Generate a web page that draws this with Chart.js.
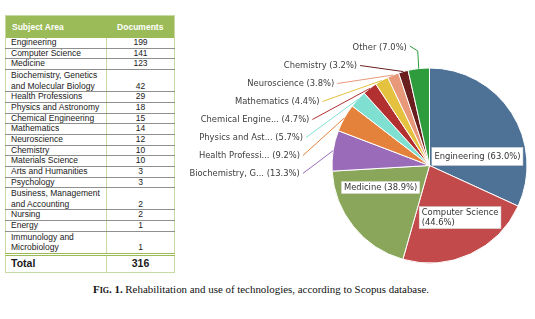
<!DOCTYPE html>
<html>
<head>
<meta charset="utf-8">
<script src="https://cdn.jsdelivr.net/npm/chart.js@4.4.1/dist/chart.umd.min.js"></script>
<style>
  body { margin: 0; background: #fff; width: 535px; height: 319px; position: relative; overflow: hidden; }
  #docs {
    position: absolute; left: 5px; top: 15px; width: 169px;
    border-collapse: collapse; table-layout: fixed;
    font-family: "Liberation Sans", Arial, sans-serif; font-size: 8.5px; color: #1a1a1a;
    border: 1px solid #c9d9a6;
  }
  #docs th {
    background: #9bbb59; color: #fff; font-weight: bold; height: 22px; padding: 0;
  }
  #docs th.name { text-align: left; padding-left: 6px; }
  #docs td { padding: 0 0 0 5px; line-height: 9.7px; border-bottom: 1px solid #8f8f8f; vertical-align: bottom; }
  #docs td.num { text-align: center; padding: 0; border-left: 1px solid #c9d9a6; }
  #docs tr.two td { line-height: 10.5px; }
  #docs tr.total td { border-top: 3px double #9bbb59; border-bottom: none; font-weight: bold; font-size: 10.5px; height: 16px; vertical-align: middle; }
  #pie { position: absolute; left: 180px; top: 0; }
  #cap {
    position: absolute; left: 93px; top: 283px; white-space: nowrap;
    font-family: "Liberation Serif", "Times New Roman", serif; font-size: 10.9px; color: #111;
  }
  #cap .fig { font-variant: small-caps; font-weight: bold; }
</style>
</head>
<body>
<table id="docs">
  <colgroup><col style="width:101px"><col style="width:68px"></colgroup>
  <thead><tr><th class="name">Subject Area</th><th>Documents</th></tr></thead>
  <tbody></tbody>
</table>
<canvas id="pie" width="355" height="280"></canvas>
<div id="cap"><span class="fig">Fig. 1.</span> Rehabilitation and use of technologies, according to Scopus database.</div>

<script>
// table data (Scopus subject areas)
const subjects = [
  "Engineering", "Computer Science", "Medicine",
  "Biochemistry, Genetics and Molecular Biology", "Health Professions",
  "Physics and Astronomy", "Chemical Engineering", "Mathematics", "Neuroscience",
  "Chemistry", "Materials Science", "Arts and Humanities", "Psychology",
  "Business, Management and Accounting", "Nursing", "Energy",
  "Immunology and Microbiology"
];
const documents = [199, 141, 123, 42, 29, 18, 15, 14, 12, 10, 10, 3, 3, 2, 2, 1, 1];
const totalDocs = 316;

// pie data
const pieLabels = [
  "Engineering", "Computer Science", "Medicine",
  "Biochemistry, Genetics and Molecular Biology", "Health Professions",
  "Physics and Astronomy", "Chemical Engineering", "Mathematics",
  "Neuroscience", "Chemistry", "Other"
];
const pieValues = [199, 141, 123, 42, 29, 18, 15, 14, 12, 10, 22];
const pieColors = [
  "#4e7196", "#c24a4a", "#8aa65b", "#9a6bb9", "#e4813a", "#7fe0d2",
  "#b33030", "#e4c13e", "#e8997a", "#6a1e1e", "#2e9b3d"
];

const tbody = document.querySelector("#docs tbody");
subjects.forEach((s, i) => {
  const tr = document.createElement("tr");
  if (s.length > 24) tr.className = "two";
  tr.innerHTML = `<td>${s}</td><td class="num">${documents[i]}</td>`;
  tbody.appendChild(tr);
});
const totalRow = document.createElement("tr");
totalRow.className = "total";
totalRow.innerHTML = `<td>Total</td><td class="num">${totalDocs}</td>`;
tbody.appendChild(totalRow);

// labels: first few inside in white boxes, the rest stacked to the left with leader lines
const sliceLabels = {
  id: "sliceLabels",
  afterDatasetsDraw(chart, args, opts) {
    const ctx = chart.ctx;
    const arcs = chart.getDatasetMeta(0).data;
    ctx.save();
    ctx.font = '8.4px "DejaVu Sans"';
    ctx.textBaseline = "middle";
    arcs.forEach((arc, i) => {
      const { x, y, startAngle, endAngle, outerRadius: r } =
        arc.getProps(["x", "y", "startAngle", "endAngle", "outerRadius"], true);
      const mid = (startAngle + endAngle) / 2;
      const pct = "(" + (pieValues[i] / totalDocs * 100).toFixed(1) + "%)";
      const ex = x + Math.cos(mid) * r;
      const ey = y + Math.sin(mid) * r;

      if (i < opts.inside.length) {
        const o = opts.inside[i];
        const a = mid + o.turn * Math.PI / 180;
        const lx = x + Math.cos(a) * r * o.dist;
        const ly = y + Math.sin(a) * r * o.dist;
        let lines = [pieLabels[i] + " " + pct];
        if (ctx.measureText(lines[0]).width > 92) lines = [pieLabels[i], pct];
        const w = Math.max(...lines.map((t) => ctx.measureText(t).width)) + 5;
        const h = lines.length * 10 + o.padY * 2;
        ctx.fillStyle = "#fff";
        ctx.fillRect(lx - w / 2, ly - h / 2, w, h);
        ctx.strokeStyle = "#d8d8d8";
        ctx.lineWidth = 0.5;
        ctx.strokeRect(lx - w / 2, ly - h / 2, w, h);
        ctx.fillStyle = "#333";
        ctx.textAlign = "left";
        lines.forEach((t, k) => {
          ctx.fillText(t, lx - w / 2 + 2.5, ly - (lines.length - 1) * 5 + k * 10);
        });
        return;
      }

      let name = pieLabels[i];
      if (name.length > 15) name = name.slice(0, 15) + "...";
      const text = name + " " + pct;
      ctx.fillStyle = "#3c3c3c";
      ctx.strokeStyle = pieColors[i];
      ctx.lineWidth = 1;

      if (i === arcs.length - 1) {
        // top slice: label sits above the pie
        const ly = y - r - 20;
        const cxText = ex - 39;
        const tw = ctx.measureText(text).width;
        ctx.textAlign = "center";
        ctx.fillText(text, cxText, ly);
        ctx.beginPath();
        ctx.moveTo(cxText + tw / 2 + 3, ly - 2);
        ctx.lineTo(ex - 1, ly + 3);
        ctx.lineTo(ex, ey);
        ctx.stroke();
        return;
      }

      const k = i - opts.inside.length;
      const ly = y + 8 - k * 18;
      const dy = ly - y;
      const rx = x - 1.333 * r * Math.sqrt(Math.max(0, 1 - Math.pow(dy / (1.235 * r), 2)));
      ctx.textAlign = "right";
      ctx.fillText(text, rx, ly);
      ctx.beginPath();
      ctx.moveTo(rx + 3, ly);
      ctx.lineTo(ex, ey);
      ctx.stroke();
    });
    ctx.restore();
  }
};

new Chart(document.getElementById("pie").getContext("2d"), {
  type: "pie",
  data: {
    labels: pieLabels,
    datasets: [
      {
        data: pieValues,
        backgroundColor: pieColors,
        borderColor: "#fff",
        borderWidth: 1,
        radius: 97.5,
      },
    ],
  },
  options: {
    responsive: false,
    animation: false,
    layout: { padding: { left: 152, right: 8, top: 68, bottom: 17 } },
    plugins: {
      legend: { display: false },
      tooltip: { enabled: false },
      sliceLabels: {
        inside: [
          { turn: 22, dist: 0.5, padY: 4 },
          { turn: -5.6, dist: 0.62, padY: 1 },
          { turn: 14.5, dist: 0.55, padY: 1 },
        ],
      },
    },
  },
  plugins: [sliceLabels],
});
</script>
</body>
</html>
